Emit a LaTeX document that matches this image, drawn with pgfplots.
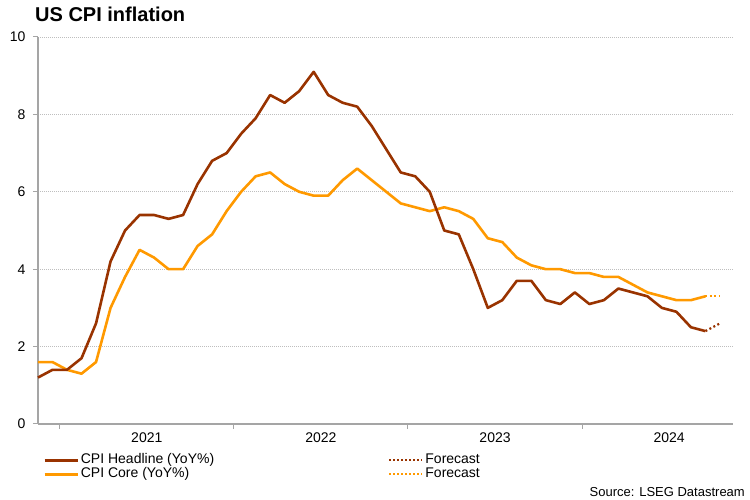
\documentclass[border=0pt]{standalone}
\usepackage{pgfplots}
\pgfplotsset{compat=1.18}
\usepackage{pgfplotstable}
\usepackage{fontspec}
\setmainfont{Liberation Sans}
\definecolor{hbrown}{RGB}{153,51,0}
\definecolor{corange}{RGB}{255,153,0}
\definecolor{axgray}{RGB}{165,165,165}
\definecolor{gridgray}{RGB}{190,190,190}
\pgfplotstableread{
x y
0 1.2
1 1.4
2 1.4
3 1.7
4 2.6
5 4.2
6 5.0
7 5.4
8 5.4
9 5.3
10 5.4
11 6.2
12 6.8
13 7.0
14 7.5
15 7.9
16 8.5
17 8.3
18 8.6
19 9.1
20 8.5
21 8.3
22 8.2
23 7.7
24 7.1
25 6.5
26 6.4
27 6.0
28 5.0
29 4.9
30 4.0
31 3.0
32 3.2
33 3.7
34 3.7
35 3.2
36 3.1
37 3.4
38 3.1
39 3.2
40 3.5
41 3.4
42 3.3
43 3.0
44 2.9
45 2.5
46 2.4
}\headline
\pgfplotstableread{
x y
46 2.4
47 2.6
}\headlinefc
\pgfplotstableread{
x y
0 1.6
1 1.6
2 1.4
3 1.3
4 1.6
5 3.0
6 3.8
7 4.5
8 4.3
9 4.0
10 4.0
11 4.6
12 4.9
13 5.5
14 6.0
15 6.4
16 6.5
17 6.2
18 6.0
19 5.9
20 5.9
21 6.3
22 6.6
23 6.3
24 6.0
25 5.7
26 5.6
27 5.5
28 5.6
29 5.5
30 5.3
31 4.8
32 4.7
33 4.3
34 4.1
35 4.0
36 4.0
37 3.9
38 3.9
39 3.8
40 3.8
41 3.6
42 3.4
43 3.3
44 3.2
45 3.2
46 3.3
}\core
\pgfplotstableread{
x y
46 3.3
47 3.3
}\corefc
\begin{document}
\begin{tikzpicture}[x=1pt,y=1pt]
\useasboundingbox (0,0) rectangle (750,500);
\node[anchor=base west, font=\fontsize{20}{24}\selectfont\bfseries, inner sep=0pt] at (35,478) {US CPI inflation};
\node[anchor=base east, font=\fontsize{13}{15}\selectfont, inner sep=0pt] at (745,3.5) {Source: LSEG Datastream};
\begin{axis}[
  at={(38pt,76pt)}, anchor=south west,
  scale only axis, width=695pt, height=387pt,
  xmin=0, xmax=47.9, ymin=0, ymax=10,
  axis x line*=bottom, axis y line*=left,
  axis line style={axgray, line width=1.6pt},
  every tick/.style={axgray, line width=1pt},
  tick align=outside, major tick length=5pt,
  ytick={0,2,4,6,8,10},
  ymajorgrids,
  major grid style={gridgray, line width=0.9pt, dash pattern=on 1pt off 1pt},
  xtick={1.5,13.5,25.5,37.5}, xticklabels={,,,},
  extra x ticks={7.5,19.5,31.5,43.5},
  extra x tick labels={2021,2022,2023,2024},
  extra x tick style={major tick length=0pt, grid=none},
  x tick label style={font=\fontsize{14}{16}\selectfont, yshift=-5pt},
  y tick label style={font=\fontsize{14}{16}\selectfont, xshift=-4pt},
  /pgf/number format/assume math mode=true,
  clip=false,
  legend columns=2,
  legend cell align=left,
  legend image code/.code={\draw[#1] (0pt,0pt) -- (33pt,0pt);},
  legend style={draw=none, fill=none, at={(0.003,-0.07)}, anchor=north west,
    font=\fontsize{14}{16}\selectfont, row sep=0pt,
    nodes={inner ysep=0pt, text height=10pt, text depth=4pt},
    /tikz/every even column/.append style={column sep=172pt}},
]
\addplot[forget plot, hbrown, line width=2.2pt, dash pattern=on 2pt off 2.5pt] table[x=x,y=y] {\headlinefc};
\addplot[forget plot, corange, line width=2.2pt, dash pattern=on 2pt off 2.5pt] table[x=x,y=y] {\corefc};
\addplot[forget plot, corange, line width=2.6pt, line join=round] table[x=x,y=y] {\core};
\addplot[forget plot, hbrown, line width=2.6pt, line join=round] table[x=x,y=y] {\headline};
\addlegendimage{hbrown, line width=2.6pt}
\addlegendentry{CPI Headline (YoY\%)}
\addlegendimage{hbrown, line width=2.2pt, dash pattern=on 2pt off 2pt}
\addlegendentry{Forecast}
\addlegendimage{corange, line width=2.6pt}
\addlegendentry{CPI Core (YoY\%)}
\addlegendimage{corange, line width=2.2pt, dash pattern=on 2pt off 2pt}
\addlegendentry{Forecast}
\end{axis}
\end{tikzpicture}
\end{document}
